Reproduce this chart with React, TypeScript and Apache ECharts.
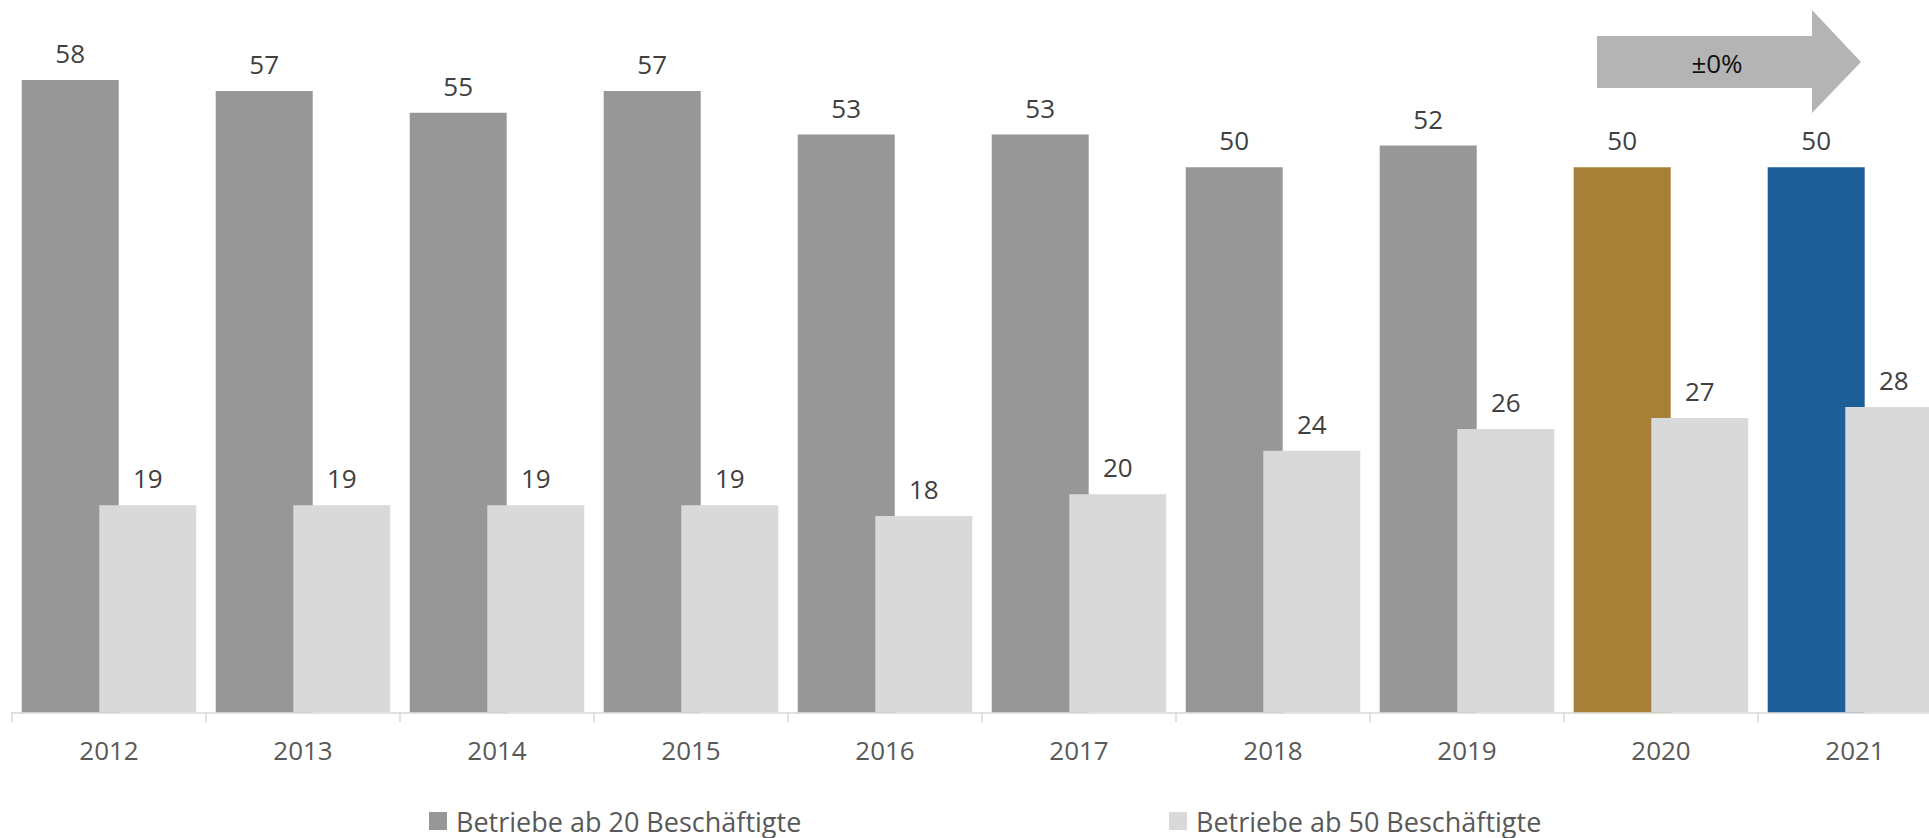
import React, { useEffect, useRef } from "react";
import * as echarts from "echarts";

const years = ["2012", "2013", "2014", "2015", "2016", "2017", "2018", "2019", "2020", "2021"];
const ab20 = [58, 57, 55, 57, 53, 53, 50, 52, 50, 50];
const ab50 = [19, 19, 19, 19, 18, 20, 24, 26, 27, 28];
const seriesNames = ["Betriebe ab 20 Beschäftigte", "Betriebe ab 50 Beschäftigte"];
const arrowLabel = "±0%";

const C_DARK = "#979797";
const C_LIGHT = "#d9d9d9";
const C_GOLD = "#a68037";
const C_BLUE = "#1e5e99";
const FONT = "Open Sans";

export default function App() {
  const ref = useRef<HTMLDivElement>(null);
  useEffect(() => {
    if (!ref.current) return;
    const chart = echarts.init(ref.current, null, { renderer: "svg" });
    const special: Record<number, string> = { 8: C_GOLD, 9: C_BLUE };
    const legendText = {
      color: "#595959",
      fontSize: 27,
      lineHeight: 28,
      fontFamily: FONT,
      padding: [0, 0, 0, 4],
    };
    chart.setOption({
      animation: false,
      textStyle: { fontFamily: FONT },
      grid: { left: 12, right: 8, top: 58.3, bottom: 125.7, containLabel: false },
      xAxis: {
        type: "category",
        data: years,
        axisLine: { show: true, lineStyle: { color: "#d9d9d9", width: 1.5 } },
        axisTick: { show: true, length: 10, lineStyle: { color: "#d9d9d9", width: 1.5 } },
        axisLabel: { color: "#595959", fontSize: 26, margin: 25, fontFamily: FONT },
      },
      yAxis: { type: "value", min: 0, max: 60, show: false, splitLine: { show: false } },
      legend: [
        {
          data: [seriesNames[0]],
          left: 429,
          top: 807,
          padding: 0,
          itemWidth: 18,
          itemHeight: 18,
          icon: "rect",
          textStyle: legendText,
        },
        {
          data: [seriesNames[1]],
          left: 1169,
          top: 807,
          padding: 0,
          itemWidth: 18,
          itemHeight: 18,
          icon: "rect",
          textStyle: legendText,
        },
      ],
      series: [
        {
          name: seriesNames[0],
          type: "bar",
          barWidth: 97,
          barGap: "-20%",
          itemStyle: { color: C_DARK },
          data: ab20.map((v, i) => ({
            value: v,
            itemStyle: special[i] ? { color: special[i] } : undefined,
          })),
          label: { show: true, position: "top", distance: 14, color: "#404040", fontSize: 26, fontFamily: FONT },
        },
        {
          name: seriesNames[1],
          type: "bar",
          barWidth: 97,
          barGap: "-20%",
          itemStyle: { color: C_LIGHT },
          data: ab50,
          label: { show: true, position: "top", distance: 14, color: "#404040", fontSize: 26, fontFamily: FONT },
        },
      ],
      graphic: [
        {
          type: "polygon",
          shape: {
            points: [
              [1597, 36],
              [1812, 36],
              [1812, 10],
              [1861, 62],
              [1812, 113],
              [1812, 88],
              [1597, 88],
            ],
          },
          style: { fill: "#b4b4b4" },
        },
        {
          type: "text",
          x: 1717,
          y: 63,
          style: {
            text: arrowLabel,
            fill: "#111111",
            fontSize: 26,
            fontFamily: FONT,
            textAlign: "center",
            textVerticalAlign: "middle",
          },
        },
      ],
    });
    return () => chart.dispose();
  }, []);
  return (
    <div
      style={{ position: "fixed", left: 0, top: 0, width: 1929, height: 838, overflow: "hidden", background: "#fff" }}
    >
      <div ref={ref} style={{ width: 1960, height: 838 }} />
    </div>
  );
}
